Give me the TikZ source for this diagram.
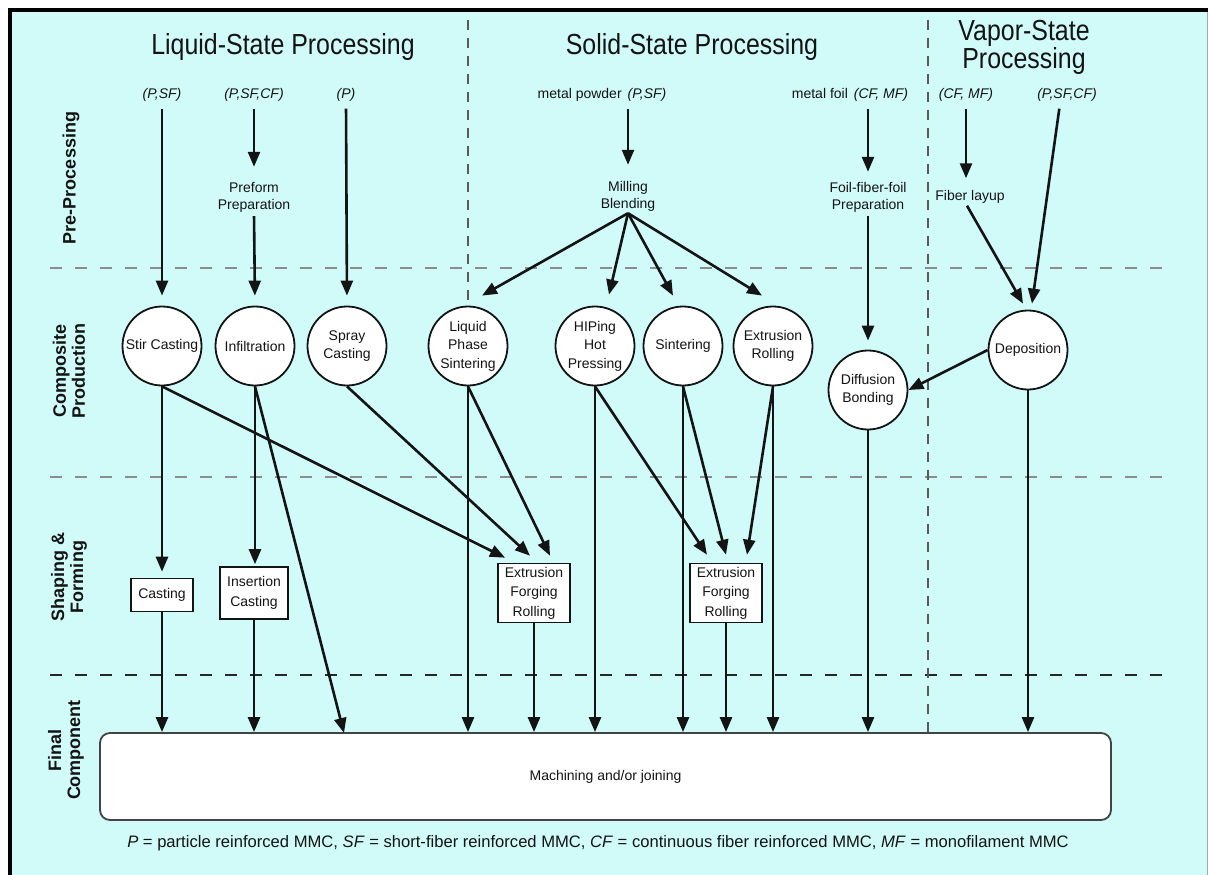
\documentclass[tikz,border=0pt]{standalone}
\usepackage{fontspec}
\setmainfont{Liberation Sans}
\newfontfamily\headfont{Liberation Sans}[FakeStretch=0.86]
\usetikzlibrary{arrows.meta,shapes.geometric}
\definecolor{panel}{RGB}{208,251,249}
\definecolor{ink}{RGB}{20,20,20}

\begin{document}
\begin{tikzpicture}[x=1pt,y=-1pt,
  every node/.style={text=ink},
  head/.style={font=\headfont\fontsize{29}{26}\selectfont, inner sep=0pt, align=center},
  tag/.style={font=\fontsize{14}{17}\selectfont, align=center, inner sep=2pt},
  rowlbl/.style={rotate=90, align=center, font=\bfseries\fontsize{18}{19}\selectfont},
  proc/.style={circle, draw=ink, fill=white, line width=1.8pt, minimum size=79pt,
    inner sep=0pt, align=center, font=\fontsize{14}{18.5}\selectfont},
  opbox/.style={rectangle, draw=ink, fill=white, line width=1.6pt, align=center,
    inner xsep=7pt, inner ysep=2pt, font=\fontsize{14}{19.5}\selectfont},
  flow/.style={draw=ink, line width=2.6pt, -{Triangle[length=15pt,width=12pt]}},
  band/.style={line width=1.4pt, dash pattern=on 12pt off 13pt},
  divider/.style={line width=1.2pt, draw=black!65, dash pattern=on 10pt off 8pt}
]
\useasboundingbox (0,0) rectangle (1208,875);

% frame and panel
\fill[white] (0,0) rectangle (1208,875);
\fill[panel] (10,10) rectangle (1208,875);
\draw[line width=4pt, black] (8,10) -- (1208,10);
\draw[line width=4pt, black] (10,8) -- (10,875);
\draw[line width=0.8pt, black!35] (1207,12) -- (1207,875);

% row separators
\draw[band, draw=black!45] (50,268) -- (1165,268);
\draw[band, draw=black!45] (50,477) -- (1165,477);
\draw[band, draw=black!85] (50,675) -- (1165,675);

% section titles
\node[head, anchor=base] (tl) at (283,55) {Liquid-State Processing};
\node[head, anchor=base] (ts) at (692,55) {Solid-State Processing};
\node[head] (tv) at (1024,47.5) {Vapor-State\\Processing};

% row labels
\node[rowlbl] (rPre) at (71,178) {Pre-Processing};
\node[rowlbl] (rCom) at (69,371) {Composite\\Production};
\node[rowlbl] (rSha) at (69,577) {Shaping \&\\Forming};
\node[rowlbl] (rFin) at (66,750) {Final\\Component};

% raw materials
\node[tag] (iA) at (162,95) {\textit{(P,SF)}};
\node[tag] (iB) at (254,95) {\textit{(P,SF,CF)}};
\node[tag] (iC) at (346,95) {\textit{(P)}};
\node[tag] (iD) at (602,95) {metal powder\hspace{6pt}\textit{(P,SF)}};
\node[tag] (iE) at (850,95) {metal foil\hspace{6pt}\textit{(CF, MF)}};
\node[tag] (iF) at (966,95) {\textit{(CF, MF)}};
\node[tag] (iG) at (1067,95) {\textit{(P,SF,CF)}};

% pre-processing steps
\node[tag] (pre) at (254,197) {Preform\\Preparation};
\node[tag] (mill) at (628,196) {Milling\\Blending};
\node[tag] (ffp) at (868,197) {Foil-fiber-foil\\Preparation};
\node[tag] (lay) at (970,197) {Fiber layup};

% process dividers
\coordinate (divA) at (468,20);
\coordinate (divB) at (928,20);

% composite production
\node[proc] (sc) at (162,346) {Stir Casting};
\node[proc] (inf) at (255,346) {Infiltration};
\node[proc] (spc) at (347,346) {Spray\\Casting};
\node[proc] (lps) at (468,346) {Liquid\\Phase\\Sintering};
\node[proc] (hip) at (595,346) {HIPing\\Hot\\Pressing};
\node[proc] (sin) at (683,346) {Sintering};
\node[proc] (exr) at (773,346) {Extrusion\\Rolling};
\node[proc] (dif) at (868,390) {Diffusion\\Bonding};
\node[proc] (dep) at (1028,350) {Deposition};

% shaping and forming
\node[opbox, minimum height=33pt] (cast) at (162,595) {Casting};
\node[opbox, minimum height=52pt] (ins) at (254,593) {Insertion\\Casting};
\node[opbox, minimum height=59pt] (efa) at (534,593) {Extrusion\\Forging\\Rolling};
\node[opbox, minimum height=59pt] (efb) at (726,593) {Extrusion\\Forging\\Rolling};

% final component
\node[draw=ink!80, fill=white, line width=1.8pt, rounded corners=10pt,
  minimum width=1011pt, minimum height=87pt, font=\fontsize{14}{17}\selectfont]
  (fin) at (605.5,776.5) {Machining and/or joining};
\coordinate (finA) at (344,733);

\draw[divider] (divA) -- (lps.north);
\draw[divider] (divB) -- (divB |- fin.north);

% footnote
\node[font=\fontsize{16.6}{19}\selectfont, inner sep=0pt] (note) at (598,843)
  {\textit{P} = particle reinforced MMC, \textit{SF} = short-fiber reinforced MMC,
   \textit{CF} = continuous fiber reinforced MMC, \textit{MF} = monofilament MMC};

% liquid-state routes
\draw[flow, shorten <=5pt, shorten >=10pt] (iA.south) -- (sc.north);
\draw[flow, shorten <=5pt, shorten >=13pt] (iB.south) -- (pre.north);
\draw[flow, shorten <=2pt, shorten >=10pt] (pre.south) -- (inf.north);
\draw[flow, shorten <=5pt, shorten >=10pt] (iC.south) -- (spc.north);

% solid-state routes
\draw[flow, shorten <=5pt, shorten >=14pt] (iD.south -| mill.north) -- (mill.north);
\draw[flow] (mill.south) -- ([xshift=14pt,yshift=10pt]lps.north);
\draw[flow] (mill.south) -- ([xshift=14pt,yshift=11pt]hip.north);
\draw[flow] (mill.south) -- ([xshift=-10pt,yshift=10pt]sin.north);
\draw[flow] (mill.south) -- ([xshift=-11pt,yshift=10pt]exr.north);
\draw[flow, shorten <=5pt, shorten >=8pt] (iE.south -| ffp.north) -- (ffp.north);
\draw[flow, shorten <=2pt, shorten >=9pt] (ffp.south) -- (dif.north);

% vapor-state routes
\draw[flow, shorten <=5pt, shorten >=10pt] (iF.south) -- (iF.south |- lay.north);
\draw[flow] ([xshift=-3pt]lay.south) -- ([xshift=-5pt,yshift=6pt]dep.north);
\draw[flow, shorten <=5pt] ([xshift=-7pt]iG.south) -- ([xshift=4pt,yshift=6pt]dep.north);
\draw[flow] (dep.west) -- (dif.east);

% into shaping and forming
\draw[flow, shorten >=6pt] (sc.south) -- (cast.north);
\draw[flow, shorten >=2pt] (inf.south) -- (inf.south |- ins.north);
\draw[flow] (sc.south) -- ([xshift=8pt,yshift=5pt]efa.north west);
\draw[flow] (spc.south) -- ([xshift=-4pt,yshift=7pt]efa.north);
\draw[flow] (lps.south) -- ([xshift=16pt,yshift=7pt]efa.north);
\draw[flow] (hip.south) -- ([xshift=-19pt,yshift=8pt]efb.north);
\draw[flow] (sin.south) -- ([yshift=8pt]efb.north);
\draw[flow] (exr.south) -- ([xshift=21pt,yshift=8pt]efb.north);

% into the final component
\draw[flow] (cast.south) -- (cast.south |- fin.north);
\draw[flow] (ins.south) -- (ins.south |- fin.north);
\draw[flow] (inf.south) -- (finA);
\draw[flow] (lps.south) -- (lps.south |- fin.north);
\draw[flow] (efa.south) -- (efa.south |- fin.north);
\draw[flow] (hip.south) -- (hip.south |- fin.north);
\draw[flow] (sin.south) -- (sin.south |- fin.north);
\draw[flow] (efb.south) -- (efb.south |- fin.north);
\draw[flow] (exr.south) -- (exr.south |- fin.north);
\draw[flow] (dif.south) -- (dif.south |- fin.north);
\draw[flow] (dep.south) -- (dep.south |- fin.north);
\end{tikzpicture}
\end{document}
